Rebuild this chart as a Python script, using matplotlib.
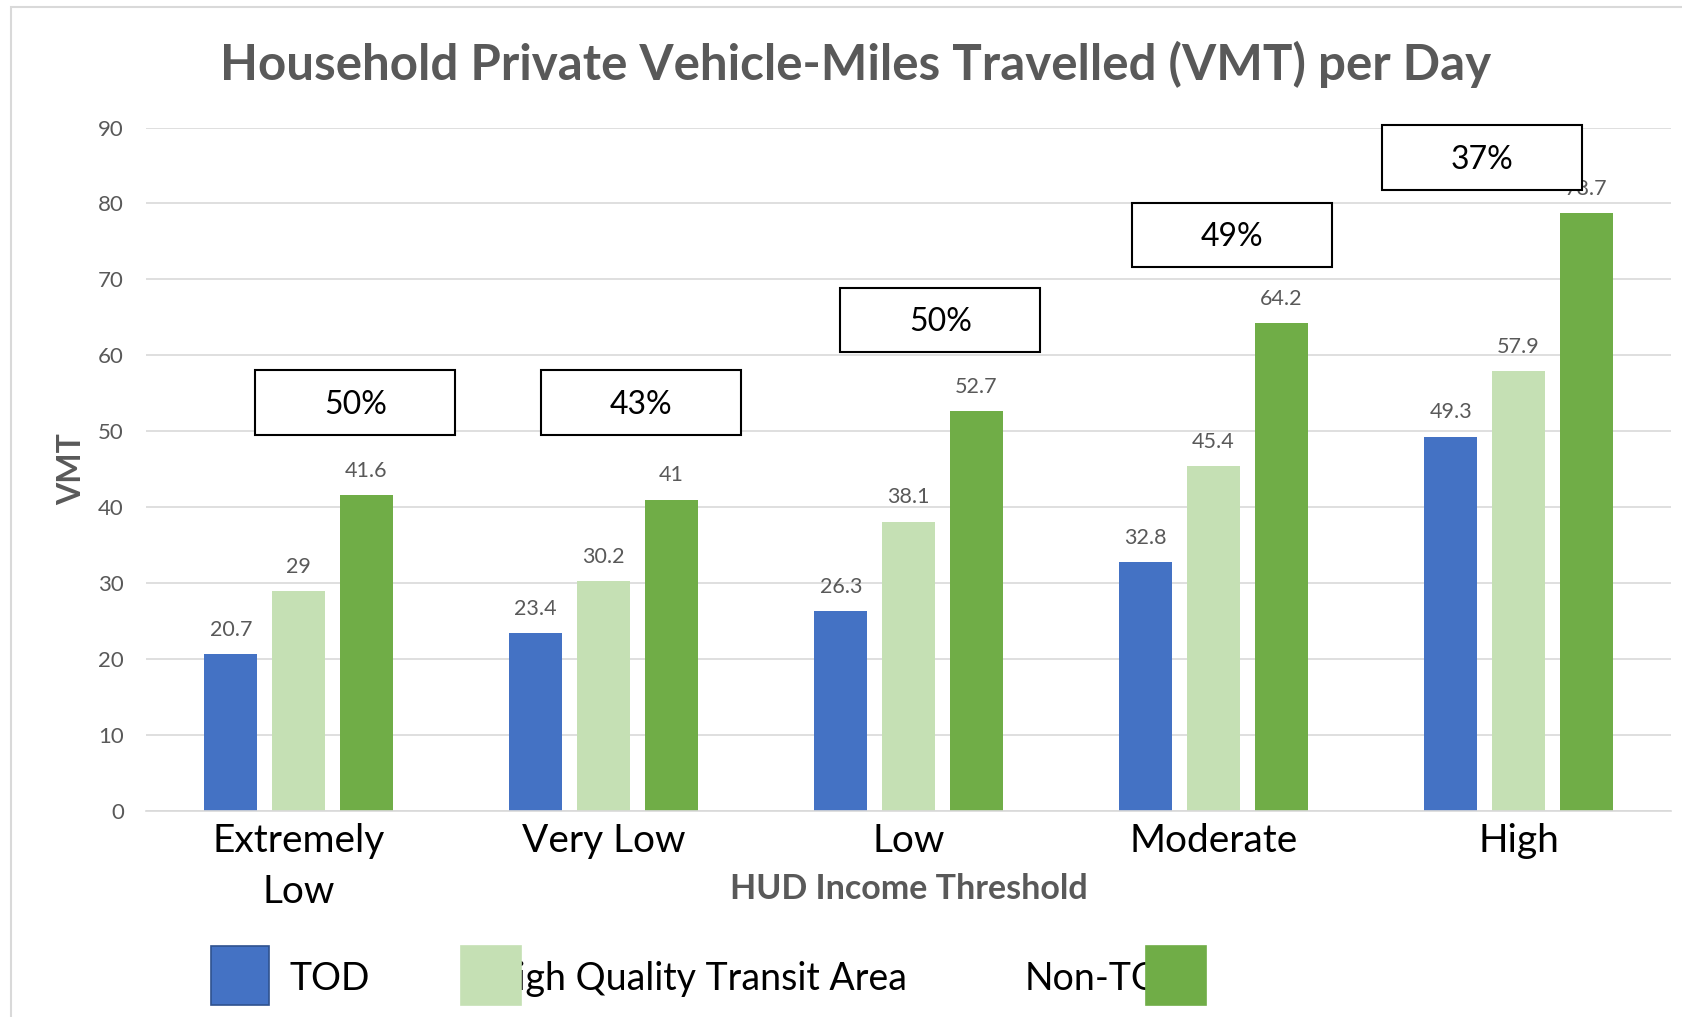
import numpy as np
import matplotlib.pyplot as plt
from matplotlib.patches import Rectangle

# --------------------------------------------------------
# Data
# --------------------------------------------------------
categories = ["Extremely\nLow", "Very Low", "Low", "Moderate", "High"]
tod = [20.7, 23.4, 26.3, 32.8, 49.3]
hqta = [29, 30.2, 38.1, 45.4, 57.9]
non_tod = [41.6, 41, 52.7, 64.2, 78.7]
pct_labels = ["50%", "43%", "50%", "49%", "37%"]
series_names = ["TOD", "High Quality Transit Area", "Non-TOD"]
yticks = [0, 10, 20, 30, 40, 50, 60, 70, 80, 90]

# --------------------------------------------------------
# Style
# --------------------------------------------------------
plt.rcParams['font.family'] = ['Lato', 'DejaVu Sans']
c_tod = "#4472C4"
c_hqta = "#C5E0B4"
c_non = "#70AD47"
grey = "#595959"
grid_c = "#D9D9D9"

W, H = 1683, 1017
fig = plt.figure(figsize=(W / 100, H / 100), dpi=100)


def fx(px):
    return px / W


def fy(py):
    return 1 - py / H


# chart frame (only left and top edges are visible in the crop)
fig.patches.append(Rectangle((fx(11), fy(1030)), fx(1700) - fx(11), fy(7) - fy(1030),
                             transform=fig.transFigure, fill=False,
                             edgecolor=grid_c, linewidth=1.5))

ax = fig.add_axes([fx(146), fy(810.7), fx(1671) - fx(146), fy(127.6) - fy(810.7)])

x = np.arange(len(categories))
bw = 0.174
off = 0.222
groups = [(tod, c_tod), (hqta, c_hqta), (non_tod, c_non)]
for i, (vals, col) in enumerate(groups):
    bars = ax.bar(x + (i - 1) * off, vals, bw, color=col, zorder=2)
    for b, v in zip(bars, vals):
        ax.annotate(f"{v:g}", (b.get_x() + b.get_width() / 2, v),
                    xytext=(0, 13), textcoords="offset points",
                    ha="center", va="baseline", fontsize=15.5, color=grey, zorder=3)

ax.set_xlim(-0.5, len(categories) - 0.5)
ax.set_ylim(0, 90)
ax.set_yticks(yticks)
ax.set_xticks(x)
ax.set_xticklabels(categories, fontsize=28, color="black", linespacing=1.5)
ax.tick_params(axis="y", length=0, pad=16, labelsize=16, labelcolor=grey)
ax.tick_params(axis="x", length=0, pad=9)
ax.grid(axis="y", color=grid_c, linewidth=1.2, zorder=0)
ax.set_axisbelow(True)
for s in ["top", "right", "left"]:
    ax.spines[s].set_visible(False)
ax.spines["bottom"].set_color(grid_c)
ax.spines["bottom"].set_linewidth(1.2)

# percentage call-out boxes (x of left edge, y of bottom edge in data units)
box_pos = [(-0.141, 49.5), (0.795, 49.5), (1.777, 60.4), (2.734, 71.6), (3.553, 81.8)]
box_w, box_h = 0.655, 8.5
for (bx, by), lab in zip(box_pos, pct_labels):
    ax.add_patch(Rectangle((bx, by), box_w, box_h, facecolor="white",
                           edgecolor="black", linewidth=1.5, zorder=5, clip_on=False))
    ax.text(bx + box_w / 2, by + box_h / 2 - 0.3, lab, ha="center", va="center",
            fontsize=23, color="black", zorder=6, clip_on=False)

# titles
fig.text(fx(856), fy(80), "Household Private Vehicle-Miles Travelled (VMT) per Day",
         ha="center", va="baseline", fontsize=35.5, fontweight="bold", color=grey)
fig.text(fx(909), fy(889), "HUD Income Threshold", ha="center", va="center",
         fontsize=24.5, fontweight="bold", color=grey)
fig.text(fx(72), fy(469), "VMT", ha="center", va="center", rotation=90,
         fontsize=23, fontweight="bold", color=grey)

# legend drawn by hand: the patches sit on top of the labels as in the original
leg_y0, leg_y1 = 946, 1005
fig.text(fx(290), fy(990), series_names[0], ha="left", va="baseline", fontsize=27, zorder=1)
fig.text(fx(907), fy(990), series_names[1], ha="right", va="baseline", fontsize=27, zorder=1)
fig.text(fx(1025), fy(990), series_names[2], ha="left", va="baseline", fontsize=27, zorder=1)
for (x0, x1), col, ec in [((211, 269), c_tod, "#2F528F"),
                          ((461, 521), c_hqta, c_hqta),
                          ((1146, 1206), c_non, c_non)]:
    fig.patches.append(Rectangle((fx(x0), fy(leg_y1)), fx(x1) - fx(x0), fy(leg_y0) - fy(leg_y1),
                                 transform=fig.transFigure, facecolor=col,
                                 edgecolor=ec, linewidth=1.2, zorder=5))

fig.savefig("out.png", dpi=100, facecolor="white")
